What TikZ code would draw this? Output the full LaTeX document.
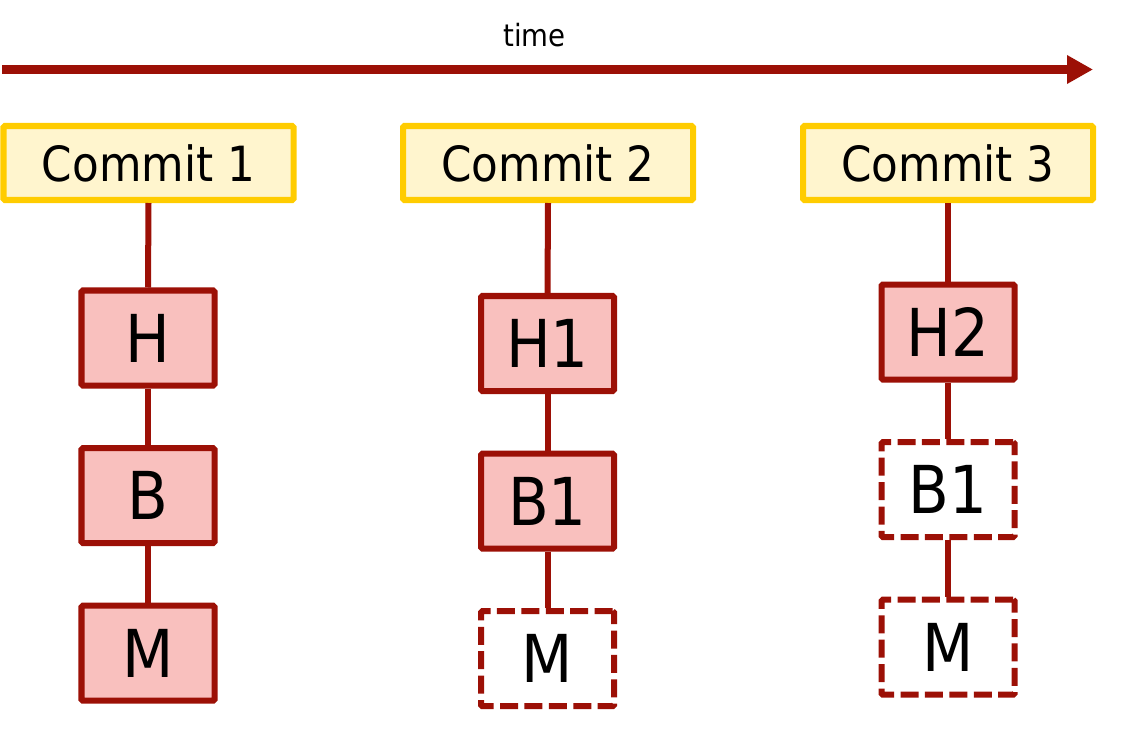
\documentclass[tikz,border=0pt]{standalone}
\usepackage{fontspec}
\setmainfont{DejaVu Sans Condensed}
\usepackage{tikz}
\usetikzlibrary{arrows.meta,positioning}
\definecolor{darkred}{HTML}{9C1006}
\definecolor{blockfill}{HTML}{F9C0BE}
\definecolor{commitline}{HTML}{FFCC00}
\definecolor{commitfill}{HTML}{FFF5CE}
\tikzstyle{commit} = [rectangle, draw=commitline, fill=commitfill, line width=4.27pt, rounded corners=1pt,
minimum width=7.25cm, minimum height=1.85cm, font=\fontsize{34.5}{40}\selectfont]
\tikzstyle{block} = [rectangle, draw=darkred, fill=blockfill, line width=4.27pt, rounded corners=1pt,
minimum width=3.325cm, minimum height=2.375cm, font=\fontsize{47}{52}\selectfont]
\tikzstyle{ghost} = [block, fill=white, dash pattern=on 0.45cm off 0.16cm]
\tikzstyle{line} = [draw=darkred, line width=4.27pt]

\begin{document}
\begin{tikzpicture}[node distance = 3.94cm]
    \useasboundingbox (0,0) rectangle (28.05,-18.475);

    % time axis
    \node (time) at (13.36,-0.87) {\fontsize{21.8}{26}\selectfont time};
    \coordinate (start) at (0.05,-1.7375);
    \coordinate (stop) at (27.325,-1.7375);
    \draw[draw=darkred, line width=0.225cm, -{Triangle[length=0.65cm, width=0.675cm]}] (start) -- (stop);

    % Nodes
    \node [commit] (commit1) at (3.7125,-4.075) {Commit 1};
    \node [commit] (commit2) at (13.7,-4.075) {Commit 2};
    \node [commit] (commit3) at (23.7,-4.075) {Commit 3};

    \node [block] (H) at (3.7,-8.45) {H};
    \node [block, below of=H] (B) {B};
    \node [block, below of=B] (M) {M};

    \node [block] (H1) at (13.6875,-8.5875) {H1};
    \node [block, below of=H1] (B1) {B1};
    \node [ghost, below of=B1] (M1) {M};

    \node [block] (H2) at (23.7,-8.3) {H2};
    \node [ghost, below of=H2] (B2) {B1};
    \node [ghost, below of=B2] (M2) {M};

    % lines
    \draw[line] (commit1.south) -- (H.north);
    \draw[line] (H.south) -- (B.north);
    \draw[line] (B.south) -- (M.north);
    \draw[line] (commit2.south) -- (H1.north);
    \draw[line] (H1.south) -- (B1.north);
    \draw[line] (B1.south) -- (M1.north);
    \draw[line] (commit3.south) -- (H2.north);
    \draw[line] (H2.south) -- (B2.north);
    \draw[line] (B2.south) -- (M2.north);

\end{tikzpicture}
\end{document}
